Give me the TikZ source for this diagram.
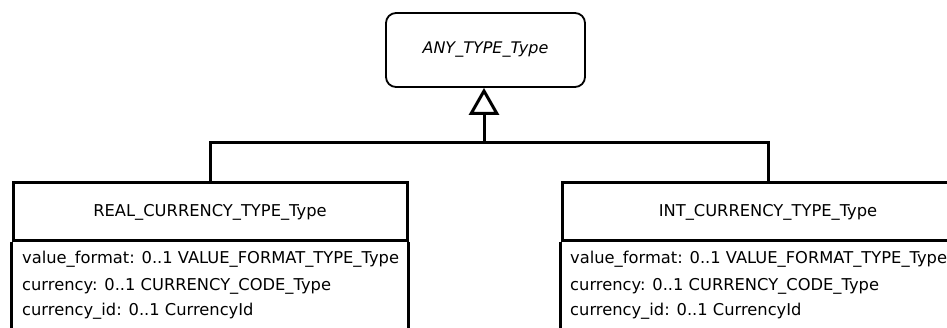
\documentclass[tikz,border=0pt]{standalone}
\usepackage{fontspec}
\setmainfont{DejaVu Sans}
\usetikzlibrary{arrows.meta}

\tikzset{
  umltext/.style={font=\fontsize{16.3}{19}\selectfont, inner sep=0pt},
  anybox/.style={draw, line width=1.8pt, rounded corners=10pt, minimum width=199pt, minimum height=74pt, umltext, font=\fontsize{16}{19}\selectfont\itshape},
  classhead/.style={draw, line width=3pt, minimum height=58pt, umltext},
  genline/.style={line width=3pt},
  attr/.style={umltext, anchor=west}
}

\begin{document}
\begin{tikzpicture}[x=1pt,y=-1pt]
\useasboundingbox (0,0) rectangle (947,328);
\clip (0,0) rectangle (947,328);
% supertype
\node[anybox] (any) at (485.5,50) {ANY\_TYPE\_Type};
% subtypes, header boxes
\node[classhead, minimum width=394pt] (real) at (210,212) {REAL\_CURRENCY\_TYPE\_Type};
\node[classhead, minimum width=412pt] (int) at (768,212) {INT\_CURRENCY\_TYPE\_Type};
% attribute compartments (cut off at the bottom)
\draw[genline] (real.south west) -- ++(0,120) (real.south east) -- ++(0,120);
\draw[genline] (int.south west) -- ++(0,120);
\node[attr] (realvf) at (22,259) {value\_format: 0..1 VALUE\_FORMAT\_TYPE\_Type};
\node[attr] (realcc) at (22,286) {currency: 0..1 CURRENCY\_CODE\_Type};
\node[attr] (realid) at (22,311) {currency\_id: 0..1 CurrencyId};
\node[attr] (intvf) at (570,259) {value\_format: 0..1 VALUE\_FORMAT\_TYPE\_Type};
\node[attr] (intcc) at (570,286) {currency: 0..1 CURRENCY\_CODE\_Type};
\node[attr] (intid) at (570,311) {currency\_id: 0..1 CurrencyId};
% generalization
\coordinate (junc) at (484,143);
\draw[genline] (real.north) |- (junc) -| (int.north);
\draw[genline, -{Triangle[open, width=30pt, length=27pt, line width=3pt]}] (junc) -- (any.south -| junc);
\end{tikzpicture}
\end{document}
